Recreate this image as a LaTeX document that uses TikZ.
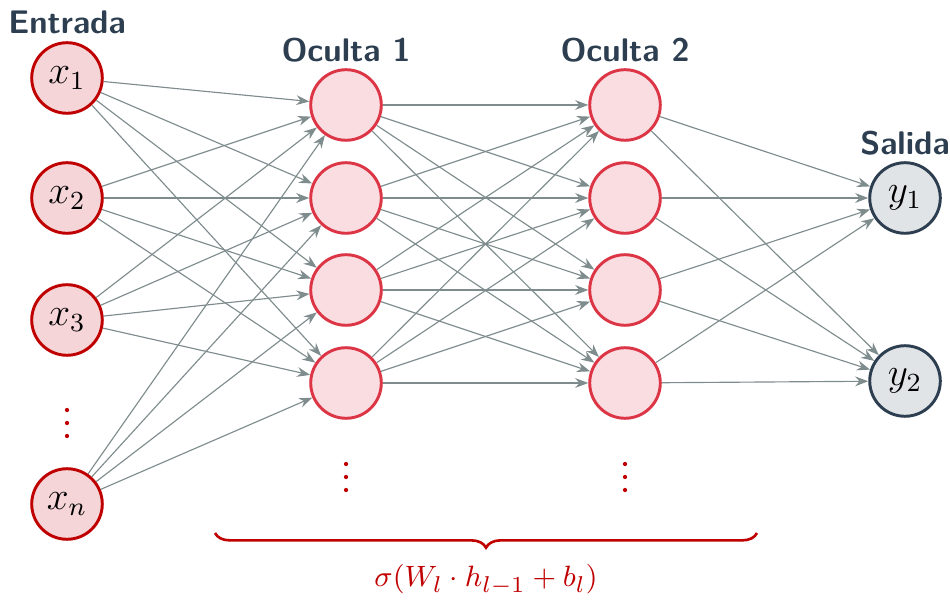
\documentclass[tikz,border=0pt]{standalone}
\usetikzlibrary{arrows.meta,decorations.pathreplacing}
\definecolor{inred}{HTML}{C00000}
\definecolor{infill}{HTML}{F5D5D8}
\definecolor{hidred}{HTML}{DC3545}
\definecolor{hidfill}{HTML}{FADDE1}
\definecolor{outdark}{HTML}{2C3E50}
\definecolor{outfill}{HTML}{E1E4E7}
\definecolor{edgegray}{HTML}{7F8C8D}
\begin{document}
\begin{tikzpicture}[x=0.306pt,y=-0.306pt,
  neuron/.style={circle, minimum size=21.6pt, inner sep=0pt, line width=0.9pt, font=\large},
  inp/.style={neuron, draw=inred, fill=infill},
  hid/.style={neuron, draw=hidred, fill=hidfill},
  outn/.style={neuron, draw=outdark, fill=outfill},
  conn/.style={draw=edgegray, line width=0.35pt, -{Stealth[length=4pt,width=3pt]}},
  layerlabel/.style={font=\sffamily\bfseries, text=outdark},
  dotmark/.style={circle, fill=inred, inner sep=0pt, minimum size=1.3pt}]
\useasboundingbox (0,0) rectangle (950,600);
% labels
\node[layerlabel] (l0) at (67,22) {Entrada};
\node[layerlabel] (l1) at (346,50) {Oculta 1};
\node[layerlabel] (l2) at (625,50) {Oculta 2};
\node[layerlabel] (l3) at (905,143) {Salida};
% input
\node[inp] (i1) at (67,78) {$x_1$};
\node[inp] (i2) at (67,198) {$x_2$};
\node[inp] (i3) at (67,320) {$x_3$};
\node[inp] (in) at (67,504) {$x_n$};
\foreach \k/\yy in {1/410,2/423,3/436} \node[dotmark] (d0\k) at (67,\yy) {};
% hidden 1
\node[hid] (a1) at (346,105) {};
\node[hid] (a2) at (346,198) {};
\node[hid] (a3) at (346,290) {};
\node[hid] (a4) at (346,383) {};
\foreach \k/\yy in {1/464,2/477,3/490} \node[dotmark] (d1\k) at (346,\yy) {};
% hidden 2
\node[hid] (b1) at (625,105) {};
\node[hid] (b2) at (625,198) {};
\node[hid] (b3) at (625,290) {};
\node[hid] (b4) at (625,383) {};
\foreach \k/\yy in {1/464,2/477,3/490} \node[dotmark] (d2\k) at (625,\yy) {};
% output
\node[outn] (o1) at (905,198) {$y_1$};
\node[outn] (o2) at (905,381) {$y_2$};
% connections
\foreach \i in {1,2,3,n} \foreach \j in {1,...,4} \draw[conn] (i\i) -- (a\j);
\foreach \i in {1,...,4} \foreach \j in {1,...,4} \draw[conn] (a\i) -- (b\j);
\foreach \i in {1,...,4} \foreach \j in {1,2} \draw[conn] (b\i) -- (o\j);
% brace
\coordinate (bl) at (215,533);
\coordinate (br) at (757,533);
\draw[inred, line width=0.8pt, decorate, decoration={brace, mirror, amplitude=4.5pt}] (bl) -- (br);
\node[text=inred, font=\fontsize{9.4}{11}\selectfont] (sig) at (486,580) {$\sigma(W_l \cdot h_{l-1} + b_l)$};
\end{tikzpicture}
\end{document}
